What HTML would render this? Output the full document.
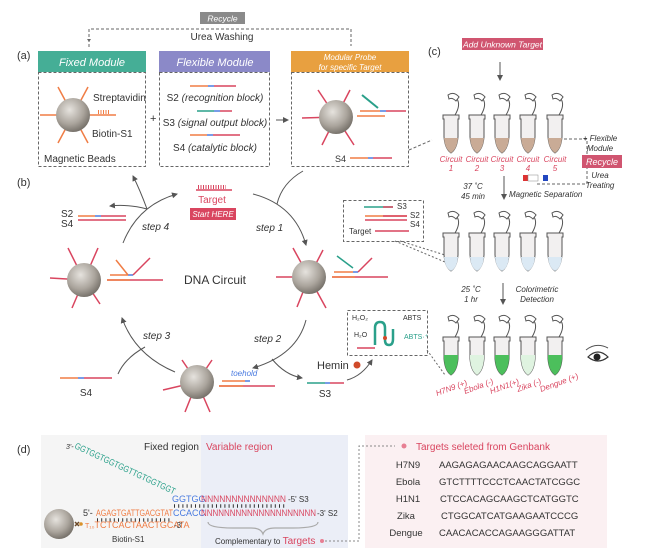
<!DOCTYPE html>
<html><head><meta charset="utf-8"><style>
html,body{margin:0;padding:0;background:#fff;}
svg{display:block;font-family:"Liberation Sans",sans-serif;}
</style></head><body>
<svg width="671" height="553" viewBox="0 0 671 553" xmlns="http://www.w3.org/2000/svg">
<defs>
<radialGradient id="bd" cx="0.4" cy="0.35" r="0.7">
<stop offset="0" stop-color="#e6e3de"/><stop offset="0.6" stop-color="#aaa49c"/><stop offset="1" stop-color="#6f6a63"/></radialGradient>
<marker id="ar" markerWidth="6" markerHeight="6" refX="5" refY="3" orient="auto"><path d="M0,0 L6,3 L0,6 z" fill="#555"/></marker>
<g id="tube">
<path d="M-3,-20 q6,-4 11,2 l-3,4 q-4,-4 -7,-2z" fill="none" stroke="#555" stroke-width="1"/>
<path d="M-8,0 L8,0 L8,4 L7,4 L7,22 Q6,34 0,38 Q-6,34 -7,22 L-7,4 L-8,4 Z" fill="#f2f0f0" stroke="#555" stroke-width="1"/>
<path d="M4,0 q6,-10 2,-16" fill="none" stroke="#555" stroke-width="1"/>
</g>
</defs>

<!-- top recycle -->
<rect x="200" y="12" width="45" height="12" fill="#8a8a8a"/>
<text x="222.5" y="21.5" font-size="8.5" font-style="italic" fill="#fff" text-anchor="middle">Recycle</text>
<path d="M89,47 V29 H351 V46" fill="none" stroke="#666" stroke-dasharray="3 2"/>
<path d="M89,42 l-2,-3 h4z" fill="#666"/>
<text x="222" y="40" font-size="10" fill="#333" text-anchor="middle">Urea Washing</text>

<!-- (a) -->
<text x="17" y="59" font-size="11" fill="#333">(a)</text>
<rect x="38" y="51" width="108" height="21" fill="#45ae96"/>
<text x="92" y="66" font-size="11" font-style="italic" fill="#fff" text-anchor="middle">Fixed Module</text>
<rect x="38.5" y="72.5" width="107" height="94" fill="none" stroke="#666" stroke-dasharray="3 2"/>
<rect x="159" y="51" width="111" height="21" fill="#8b89c8"/>
<text x="215" y="66" font-size="11" font-style="italic" fill="#fff" text-anchor="middle">Flexible Module</text>
<rect x="159.5" y="72.5" width="110" height="94" fill="none" stroke="#666" stroke-dasharray="3 2"/>
<rect x="291" y="51" width="118" height="21" fill="#e8a040"/>
<text x="350" y="60" font-size="8" font-style="italic" fill="#fff" text-anchor="middle">Modular Probe</text>
<text x="350" y="70" font-size="8" font-style="italic" fill="#fff" text-anchor="middle">for specific Target</text>
<rect x="291.5" y="72.5" width="117" height="94" fill="none" stroke="#666" stroke-dasharray="3 2"/>

<!-- fixed bead -->
<g stroke="#f07d45" stroke-width="1.5">
<line x1="73" y1="115" x2="58" y2="87"/><line x1="73" y1="115" x2="88" y2="87"/>
<line x1="73" y1="115" x2="40" y2="115"/><line x1="73" y1="115" x2="58" y2="143"/>
<line x1="73" y1="115" x2="88" y2="143"/><line x1="73" y1="115" x2="116" y2="115"/>
</g>
<line x1="98" y1="112" x2="110" y2="112" stroke="#f07d45" stroke-width="4" stroke-dasharray="1 1.5"/>
<circle cx="73" cy="115" r="17" fill="url(#bd)"/>
<text x="93" y="101" font-size="10" fill="#333">Streptavidin</text>
<text x="92" y="137" font-size="10" fill="#333">Biotin-S1</text>
<text x="44" y="162" font-size="10" fill="#333">Magnetic Beads</text>
<text x="150" y="122" font-size="11" fill="#333">+</text>

<!-- flexible strands -->
<g stroke-width="1.5">
<line x1="190" y1="86" x2="208" y2="86" stroke="#f07d45"/><line x1="208" y1="86" x2="214" y2="86" stroke="#4a7be0"/><line x1="214" y1="86" x2="236" y2="86" stroke="#d9455f"/>
<line x1="197" y1="111" x2="214" y2="111" stroke="#2aa08a"/><line x1="214" y1="111" x2="220" y2="111" stroke="#4a7be0"/><line x1="220" y1="111" x2="232" y2="111" stroke="#d9455f"/>
<line x1="190" y1="135" x2="207" y2="135" stroke="#f07d45"/><line x1="207" y1="135" x2="213" y2="135" stroke="#4a7be0"/><line x1="213" y1="135" x2="240" y2="135" stroke="#d9455f"/>
</g>
<text x="215" y="101" font-size="10" fill="#333" text-anchor="middle">S2 <tspan font-style="italic">(recognition block)</tspan></text>
<text x="215" y="126" font-size="10" fill="#333" text-anchor="middle">S3 <tspan font-style="italic">(signal output block)</tspan></text>
<text x="215" y="151" font-size="10" fill="#333" text-anchor="middle">S4 <tspan font-style="italic">(catalytic block)</tspan></text>
<line x1="276" y1="120" x2="288" y2="120" stroke="#555" marker-end="url(#ar)"/>

<!-- modular probe bead -->
<g stroke="#d9455f" stroke-width="1.5">
<line x1="336" y1="117" x2="318" y2="90"/><line x1="336" y1="117" x2="350" y2="90"/><line x1="336" y1="117" x2="302" y2="118"/>
<line x1="336" y1="117" x2="322" y2="145"/><line x1="336" y1="117" x2="354" y2="145"/>
</g>
<circle cx="336" cy="117" r="17" fill="url(#bd)"/>
<line x1="357" y1="116" x2="385" y2="116" stroke="#f07d45" stroke-width="1.5"/>
<line x1="360" y1="111" x2="380" y2="111" stroke="#f07d45" stroke-width="1.5"/>
<line x1="380" y1="111" x2="386" y2="111" stroke="#4a7be0" stroke-width="1.5"/>
<line x1="386" y1="111" x2="406" y2="111" stroke="#d9455f" stroke-width="1.5"/>
<line x1="362" y1="95" x2="378" y2="108" stroke="#2aa08a" stroke-width="2"/>
<text x="335" y="162" font-size="9" fill="#333">S4</text>
<line x1="350" y1="158" x2="368" y2="158" stroke="#f07d45" stroke-width="1.5"/><line x1="368" y1="158" x2="373" y2="158" stroke="#4a7be0" stroke-width="1.5"/><line x1="373" y1="158" x2="392" y2="158" stroke="#d9455f" stroke-width="1.5"/>
<path d="M409,150 L432,140" fill="none" stroke="#666" stroke-dasharray="3 2"/>

<!-- (b) -->
<text x="17" y="186" font-size="11" fill="#333">(b)</text>
<g fill="none" stroke="#555" stroke-width="1">
<path d="M123,243 Q138,205 177,194" marker-end="url(#ar)"/>
<path d="M253,194 Q295,205 306,245" marker-end="url(#ar)"/>
<path d="M306,320 Q297,355 253,368" marker-end="url(#ar)"/>
<path d="M175,372 Q135,355 122,318" marker-end="url(#ar)"/>
<path d="M147,209 Q140,190 133,176" marker-end="url(#ar)"/>
<path d="M147,209 Q128,204 110,206" marker-end="url(#ar)"/>
<path d="M277,204 Q282,183 303,171"/>
<path d="M272,359 Q285,375 302,378" marker-end="url(#ar)"/>
<path d="M118,374 Q125,358 145,347"/>
<path d="M347,380 Q362,376 372,360" marker-end="url(#ar)"/>
</g>
<line x1="196" y1="190" x2="232" y2="190" stroke="#d9455f" stroke-width="1.5"/>
<line x1="198" y1="187" x2="226" y2="187" stroke="#d9455f" stroke-width="4" stroke-dasharray="1 1.5"/>
<text x="212" y="203" font-size="10" fill="#d9455f" text-anchor="middle">Target</text>
<rect x="190" y="208" width="46" height="12" fill="#d9455f"/>
<text x="213" y="217" font-size="8" font-style="italic" fill="#fff" text-anchor="middle">Start HERE</text>
<text x="61" y="217" font-size="10" fill="#333">S2</text><text x="61" y="227" font-size="10" fill="#333">S4</text>
<line x1="78" y1="216" x2="95" y2="216" stroke="#f07d45" stroke-width="1.5"/><line x1="95" y1="216" x2="101" y2="216" stroke="#4a7be0" stroke-width="1.5"/><line x1="101" y1="216" x2="126" y2="216" stroke="#d9455f" stroke-width="1.5"/>
<line x1="78" y1="220" x2="126" y2="220" stroke="#d9455f" stroke-width="1.5"/>
<text x="142" y="230" font-size="10" font-style="italic" fill="#333">step 4</text>
<text x="256" y="231" font-size="10" font-style="italic" fill="#333">step 1</text>
<text x="254" y="342" font-size="10" font-style="italic" fill="#333">step 2</text>
<text x="143" y="339" font-size="10" font-style="italic" fill="#333">step 3</text>
<text x="215" y="284" font-size="12" fill="#333" text-anchor="middle">DNA Circuit</text>

<!-- circuit beads -->
<g stroke="#d9455f" stroke-width="1.5">
<line x1="84" y1="280" x2="68" y2="248"/><line x1="84" y1="280" x2="98" y2="248"/><line x1="84" y1="280" x2="50" y2="278"/>
<line x1="84" y1="280" x2="72" y2="308"/><line x1="84" y1="280" x2="100" y2="304"/>
<line x1="309" y1="277" x2="293" y2="248"/><line x1="309" y1="277" x2="323" y2="250"/><line x1="309" y1="277" x2="276" y2="277"/>
<line x1="309" y1="277" x2="297" y2="307"/><line x1="309" y1="277" x2="326" y2="308"/>
<line x1="197" y1="382" x2="182" y2="360"/><line x1="197" y1="382" x2="212" y2="360"/><line x1="197" y1="382" x2="163" y2="390"/>
<line x1="197" y1="382" x2="185" y2="412"/><line x1="197" y1="382" x2="210" y2="412"/>
</g>
<circle cx="84" cy="280" r="17" fill="url(#bd)"/>
<circle cx="309" cy="277" r="17" fill="url(#bd)"/>
<circle cx="197" cy="382" r="17" fill="url(#bd)"/>
<g stroke-width="1.5">
<line x1="107" y1="280" x2="163" y2="280" stroke="#d9455f"/><line x1="107" y1="280" x2="130" y2="280" stroke="#f07d45"/>
<line x1="110" y1="275" x2="128" y2="275" stroke="#f07d45"/><line x1="128" y1="275" x2="133" y2="275" stroke="#4a7be0"/>
<line x1="133" y1="275" x2="150" y2="258" stroke="#d9455f"/><line x1="128" y1="275" x2="116" y2="260" stroke="#f07d45"/>
<line x1="332" y1="277" x2="388" y2="277" stroke="#d9455f"/><line x1="332" y1="277" x2="355" y2="277" stroke="#f07d45"/>
<line x1="334" y1="272" x2="353" y2="272" stroke="#f07d45"/><line x1="353" y1="272" x2="358" y2="272" stroke="#4a7be0"/>
<line x1="358" y1="272" x2="372" y2="258" stroke="#d9455f"/><line x1="353" y1="268" x2="337" y2="256" stroke="#2aa08a"/>
<line x1="219" y1="386" x2="275" y2="386" stroke="#d9455f"/><line x1="219" y1="386" x2="243" y2="386" stroke="#f07d45"/>
<line x1="222" y1="381" x2="245" y2="381" stroke="#f07d45"/><line x1="245" y1="381" x2="250" y2="381" stroke="#4a7be0"/>
</g>
<text x="231" y="376" font-size="8" font-style="italic" fill="#4a7be0">toehold</text>
<line x1="60" y1="378" x2="78" y2="378" stroke="#f07d45" stroke-width="1.5"/><line x1="78" y1="378" x2="84" y2="378" stroke="#4a7be0" stroke-width="1.5"/><line x1="84" y1="378" x2="112" y2="378" stroke="#d9455f" stroke-width="1.5"/>
<text x="86" y="396" font-size="10" fill="#333" text-anchor="middle">S4</text>
<text x="317" y="369" font-size="11" fill="#333">Hemin</text>
<circle cx="357" cy="365" r="3.5" fill="#d04a2a"/>
<line x1="307" y1="383" x2="325" y2="383" stroke="#2aa08a" stroke-width="1.5"/><line x1="325" y1="383" x2="330" y2="383" stroke="#4a7be0" stroke-width="1.5"/><line x1="330" y1="383" x2="344" y2="383" stroke="#d9455f" stroke-width="1.5"/>
<text x="325" y="397" font-size="10" fill="#333" text-anchor="middle">S3</text>

<!-- inset boxes -->
<rect x="343.5" y="200.5" width="80" height="41" fill="none" stroke="#666" stroke-dasharray="3 2"/>
<line x1="364" y1="207" x2="393" y2="207" stroke="#2aa08a" stroke-width="1.5"/><line x1="383" y1="207" x2="393" y2="207" stroke="#d9455f" stroke-width="1.5"/>
<text x="397" y="209" font-size="8" fill="#333">S3</text>
<line x1="365" y1="216" x2="407" y2="216" stroke="#f07d45" stroke-width="1.5"/><line x1="383" y1="216" x2="407" y2="216" stroke="#d9455f" stroke-width="1.5"/>
<line x1="365" y1="220" x2="407" y2="220" stroke="#d9455f" stroke-width="1.5"/>
<text x="410" y="218" font-size="8" fill="#333">S2</text><text x="410" y="227" font-size="8" fill="#333">S4</text>
<text x="349" y="234" font-size="8" fill="#333">Target</text>
<line x1="375" y1="231" x2="409" y2="231" stroke="#d9455f" stroke-width="1.5"/>
<path d="M400,241 L445,255 M395,241 L445,262" stroke="#666" stroke-dasharray="2 2" fill="none"/>
<rect x="347.5" y="310.5" width="80" height="45" fill="none" stroke="#666" stroke-dasharray="3 2"/>
<text x="352" y="320" font-size="7" fill="#333">H₂O₂</text>
<text x="354" y="337" font-size="7" fill="#333">H₂O</text>
<text x="403" y="320" font-size="7" fill="#333">ABTS</text>
<text x="404" y="339" font-size="7" fill="#2aa08a">ABTS·⁺</text>
<path d="M375,345 v-17 q0,-6 5,-6 q5,0 5,6 v12 q0,5 4,5 q4,0 4,-6 v-10" fill="none" stroke="#2aa08a" stroke-width="2.5"/>
<line x1="357" y1="348" x2="375" y2="348" stroke="#d9455f" stroke-width="1.5"/>
<circle cx="385" cy="338" r="2" fill="#d04a2a"/>
<path d="M427,350 L445,375" stroke="#666" stroke-dasharray="2 2" fill="none"/>

<!-- (c) -->
<text x="428" y="55" font-size="11" fill="#333">(c)</text>
<rect x="462" y="38" width="81" height="12" fill="#d05570"/>
<text x="502.5" y="47.5" font-size="8.5" font-style="italic" fill="#fff" text-anchor="middle">Add Unknown Target</text>
<line x1="500" y1="62" x2="500" y2="80" stroke="#555" marker-end="url(#ar)"/>

<!-- tube row 1 -->
<g>
<use href="#tube" x="451" y="115"/><use href="#tube" x="477" y="115"/><use href="#tube" x="502" y="115"/><use href="#tube" x="528" y="115"/><use href="#tube" x="555" y="115"/>
</g>
<g fill="#c9ab96">
<path d="M444,138 h14 v0 Q457,149 451,153 Q445,149 444,138z"/>
<path d="M470,138 h14 Q483,149 477,153 Q471,149 470,138z"/>
<path d="M495,138 h14 Q508,149 502,153 Q496,149 495,138z"/>
<path d="M521,138 h14 Q534,149 528,153 Q522,149 521,138z"/>
<path d="M548,138 h14 Q561,149 555,153 Q549,149 548,138z"/>
</g>
<g font-size="8" font-style="italic" fill="#d9455f" text-anchor="middle">
<text x="451" y="162">Circuit</text><text x="451" y="171">1</text>
<text x="477" y="162">Circuit</text><text x="477" y="171">2</text>
<text x="502" y="162">Circuit</text><text x="502" y="171">3</text>
<text x="528" y="162">Circuit</text><text x="528" y="171">4</text>
<text x="555" y="162">Circuit</text><text x="555" y="171">5</text>
</g>
<rect x="523" y="175" width="5" height="6" fill="#d33"/><rect x="528" y="175" width="10" height="6" fill="#fff" stroke="#888" stroke-width="0.5"/><rect x="543" y="175" width="5" height="6" fill="#2247c0"/>
<path d="M564,139 h23 v45 h-50" fill="none" stroke="#666" stroke-dasharray="3 2"/>
<text x="600" y="141" font-size="8" font-style="italic" fill="#333" text-anchor="middle">+ Flexible</text>
<text x="600" y="151" font-size="8" font-style="italic" fill="#333" text-anchor="middle">Module</text>
<rect x="582" y="155" width="40" height="13" fill="#d05570"/>
<text x="602" y="165" font-size="9" font-style="italic" fill="#fff" text-anchor="middle">Recycle</text>
<text x="600" y="178" font-size="8" font-style="italic" fill="#333" text-anchor="middle">Urea</text>
<text x="600" y="188" font-size="8" font-style="italic" fill="#333" text-anchor="middle">Treating</text>
<line x1="504" y1="176" x2="504" y2="199" stroke="#555" marker-end="url(#ar)"/>
<text x="473" y="189" font-size="8" font-style="italic" fill="#333" text-anchor="middle">37 ˚C</text>
<text x="473" y="199" font-size="8" font-style="italic" fill="#333" text-anchor="middle">45 min</text>
<text x="509" y="197" font-size="8" font-style="italic" fill="#333">Magnetic Separation</text>

<!-- tube row 2 -->
<use href="#tube" x="451" y="233"/><use href="#tube" x="477" y="233"/><use href="#tube" x="502" y="233"/><use href="#tube" x="528" y="233"/><use href="#tube" x="555" y="233"/>
<g fill="#dbe9f4">
<path d="M444,257 h14 Q457,268 451,271 Q445,268 444,257z"/>
<path d="M470,257 h14 Q483,268 477,271 Q471,268 470,257z"/>
<path d="M495,257 h14 Q508,268 502,271 Q496,268 495,257z"/>
<path d="M521,257 h14 Q534,268 528,271 Q522,268 521,257z"/>
<path d="M548,257 h14 Q561,268 555,271 Q549,268 548,257z"/>
</g>
<line x1="503" y1="283" x2="503" y2="304" stroke="#555" marker-end="url(#ar)"/>
<text x="471" y="292" font-size="8" font-style="italic" fill="#333" text-anchor="middle">25 ˚C</text>
<text x="471" y="302" font-size="8" font-style="italic" fill="#333" text-anchor="middle">1 hr</text>
<text x="537" y="292" font-size="8" font-style="italic" fill="#333" text-anchor="middle">Colorimetric</text>
<text x="537" y="302" font-size="8" font-style="italic" fill="#333" text-anchor="middle">Detection</text>

<!-- tube row 3 -->
<use href="#tube" x="451" y="337"/><use href="#tube" x="477" y="337"/><use href="#tube" x="502" y="337"/><use href="#tube" x="528" y="337"/><use href="#tube" x="555" y="337"/>
<path d="M444,355 h14 v4 Q457,371 451,375 Q445,371 444,359z" fill="#4cbf5c"/>
<path d="M470,355 h14 v4 Q483,371 477,375 Q471,371 470,359z" fill="#dff3e0"/>
<path d="M495,355 h14 v4 Q508,371 502,375 Q496,371 495,359z" fill="#4cbf5c"/>
<path d="M521,355 h14 v4 Q534,371 528,375 Q522,371 521,359z" fill="#dff3e0"/>
<path d="M548,355 h14 v4 Q561,371 555,375 Q549,371 548,359z" fill="#4cbf5c"/>
<g font-size="8" font-style="italic" fill="#d9455f">
<text x="0" y="0" transform="translate(437,396) rotate(-20)">H7N9 (+)</text>
<text x="0" y="0" transform="translate(465,394) rotate(-20)">Ebola (-)</text>
<text x="0" y="0" transform="translate(491,394) rotate(-20)">H1N1(+)</text>
<text x="0" y="0" transform="translate(518,392) rotate(-20)">Zika (-)</text>
<text x="0" y="0" transform="translate(541,392) rotate(-20)">Dengue (+)</text>
</g>
<!-- eye -->
<path d="M588,357 q10,-10 20,0 q-10,8 -20,0z" fill="#fff" stroke="#333" stroke-width="1.2"/>
<circle cx="597" cy="357" r="3.5" fill="#222"/>
<path d="M586,350 q10,-8 22,-2" fill="none" stroke="#555"/>

<!-- (d) -->
<text x="17" y="453" font-size="11" fill="#333">(d)</text>
<rect x="41" y="435" width="160" height="113" fill="#f5f5f5"/>
<rect x="201" y="435" width="147" height="113" fill="#ebeef7"/>
<rect x="365" y="435" width="242" height="113" fill="#fbf0f2"/>
<text x="199" y="450" font-size="10" fill="#333" text-anchor="end">Fixed region</text>
<text x="206" y="450" font-size="10" fill="#d9455f">Variable region</text>
<text x="66" y="449" font-size="7" font-style="italic" fill="#333">3'-</text>
<text transform="translate(74,448) rotate(25)" font-size="9" fill="#2aa08a" textLength="110" lengthAdjust="spacingAndGlyphs">GGTGGTGGTGGTTGTGGTGGT</text>
<text x="172" y="502" font-size="9" fill="#4a7be0">GGTGG</text>
<text x="201" y="502" font-size="9" fill="#d9455f" textLength="85" lengthAdjust="spacingAndGlyphs">NNNNNNNNNNNNNN</text>
<text x="288" y="502" font-size="8" fill="#333">-5'  S3</text>
<line x1="174" y1="506" x2="286" y2="506" stroke="#333" stroke-dasharray="1 3.2" stroke-width="3.5"/>
<text x="83" y="516" font-size="9" fill="#333">5'-</text>
<text x="96" y="516" font-size="9" fill="#f07d45" textLength="77" lengthAdjust="spacingAndGlyphs">AGAGTGATTGACGTAT</text>
<text x="173" y="516" font-size="9" fill="#4a7be0">CCACC</text>
<text x="201" y="516" font-size="9" fill="#d9455f" textLength="115" lengthAdjust="spacingAndGlyphs">NNNNNNNNNNNNNNNNNNNN</text>
<text x="317" y="516" font-size="8" fill="#333">-3'  S2</text>
<line x1="97" y1="520" x2="170" y2="520" stroke="#333" stroke-dasharray="1 3.2" stroke-width="3.5"/>
<text x="85" y="528" font-size="9" fill="#f07d45"><tspan font-size="7">T₁₀</tspan>TCTCACTAACTGCATA</text>
<text x="174" y="528" font-size="8" fill="#333">-3'</text>
<circle cx="59" cy="524" r="15" fill="url(#bd)"/>
<path d="M75,522 l4,4 m0,-4 l-4,4" stroke="#6b4a2a" stroke-width="1.5"/>
<circle cx="81" cy="524" r="1.8" fill="#d9912a"/>
<text x="112" y="542" font-size="8" fill="#333">Biotin-S1</text>
<path d="M208,522 q0,6 25,6 h18 q10,0 12,6 q2,-6 12,-6 h18 q25,0 25,-6" fill="none" stroke="#aaa" stroke-width="1.2"/>
<text x="215" y="544" font-size="8" fill="#333">Complementary to <tspan font-size="10" fill="#d9455f">Targets</tspan></text>
<circle cx="322" cy="541" r="2" fill="#e77f93"/>
<path d="M325,541 H359 V446 H395" fill="none" stroke="#888" stroke-dasharray="2 2"/>
<circle cx="404" cy="446" r="2.5" fill="#e77f93"/>
<text x="416" y="450" font-size="10" fill="#d9455f">Targets seleted from Genbank</text>
<g font-size="9.5" fill="#333">
<text x="408" y="468" text-anchor="middle">H7N9</text><text x="439" y="468">AAGAGAGAACAAGCAGGAATT</text>
<text x="408" y="485" text-anchor="middle">Ebola</text><text x="439" y="485">GTCTTTTCCCTCAACTATCGGC</text>
<text x="408" y="502" text-anchor="middle">H1N1</text><text x="440" y="502">CTCCACAGCAAGCTCATGGTC</text>
<text x="406" y="519" text-anchor="middle">Zika</text><text x="441" y="519">CTGGCATCATGAAGAATCCCG</text>
<text x="406" y="536" text-anchor="middle">Dengue</text><text x="439" y="536">CAACACACCAGAAGGGATTAT</text>
</g>
</svg>
</body></html>
